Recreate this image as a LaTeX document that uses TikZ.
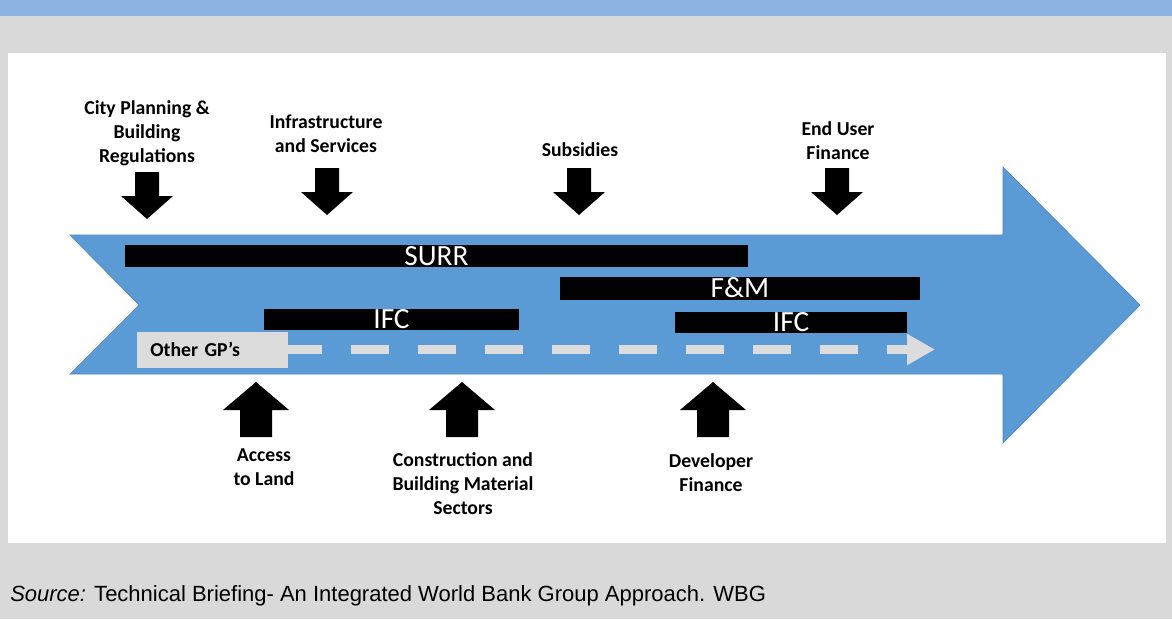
\documentclass[tikz,border=0pt]{standalone}
\usepackage{fontspec}
\setmainfont{Carlito}
\newfontfamily\arialfont{Liberation Sans}
\usetikzlibrary{arrows.meta}

\definecolor{pagegray}{HTML}{D9D9D9}
\definecolor{headblue}{HTML}{8DB3E2}
\definecolor{flowblue}{HTML}{5B9BD5}
\definecolor{flowedge}{HTML}{4F86BF}
\definecolor{gpgray}{HTML}{DCDCDC}

\tikzset{
  lbl/.style={align=center, inner sep=0pt, font=\bfseries\fontsize{14.8}{18}\selectfont},
  bar/.style={fill=black, text=white, inner sep=0pt, text height=14pt, text depth=0pt,
    font=\fontsize{22}{24}\selectfont},
  gpbox/.style={fill=gpgray, inner xsep=10pt, inner ysep=0pt, align=left,
    font=\bfseries\fontsize{14.8}{18}\selectfont},
  gpdash/.style={draw=gpgray, line width=6.75pt, dash pattern=on 28.5pt off 21.75pt,
    dash phase=3pt, -{Triangle[length=21pt, width=22pt]}},
}

\begin{document}
\begin{tikzpicture}[x=0.75pt, y=-0.75pt]
  % Page
  \fill[pagegray] (0,0) rectangle (1172,619);
  \useasboundingbox (0,0) rectangle (1172,619);
  \fill[headblue] (0,0) rectangle (1172,16);
  \fill[white] (8,53) rectangle (1166,543);

  % Big arrow
  \filldraw[fill=flowblue, draw=flowedge, line width=0.5pt]
    (70,235) -- (1003,235) -- (1003,167) -- (1140,305) -- (1003,443)
    -- (1003,374) -- (70,374) -- (139,305) -- cycle;

  % Bars
  \node[bar, minimum width=467.25pt, minimum height=16.5pt] at (436.5,256) (surr) {SURR};
  \node[bar, minimum width=270pt, minimum height=17.25pt] at (740,288.5) (fm) {F\&M};
  \node[bar, minimum width=191.25pt, minimum height=15.75pt] at (391.5,319.5) (ifcl) {IFC};
  \node[bar, minimum width=174pt, minimum height=15.75pt] at (791,322.5) (ifcr) {IFC};

  % Other GP's
  \node[gpbox, text width=93.25pt, minimum height=27pt] at (212.5,349.5) (gp) {Other GP’s};
  \coordinate (gpend) at (935,349.5);
  \draw[gpdash] (gp.east) -- (gpend);

  % Top labels
  \node[lbl] at (147,133.5) (city) {City Planning \&\\Building\\Regulations};
  \node[lbl] at (326,133.5) (infra) {Infrastructure\\and Services};
  \node[lbl] at (580,150) (subs) {Subsidies};
  \node[lbl] at (838,140.5) (enduser) {End User\\Finance};

  % Bottom labels
  \node[lbl] at (264,467) (land) {Access\\to Land};
  \node[lbl] at (463,484) (constr) {Construction and\\Building Material\\Sectors};
  \node[lbl] at (711,473) (dev) {Developer\\Finance};

  % Block arrows
  \foreach \cx/\ty in {147/172, 327/168, 579/168, 837/168}
    \fill (\cx-12,\ty) -- (\cx+12,\ty) -- (\cx+12,\ty+24) -- (\cx+26,\ty+24)
      -- (\cx,\ty+47) -- (\cx-26,\ty+24) -- (\cx-12,\ty+24) -- cycle;
  \foreach \cx in {256,462,713}
    \fill (\cx,382) -- (\cx+33,410) -- (\cx+16,410) -- (\cx+16,437)
      -- (\cx-16,437) -- (\cx-16,410) -- (\cx-33,410) -- cycle;

  % Source
  \node[anchor=base west, inner sep=0pt, font=\arialfont\fontsize{16.5}{18}\selectfont]
    at (10,601) (src) {\textit{Source:} Technical Briefing- An Integrated World Bank Group Approach. WBG};
\end{tikzpicture}
\end{document}
